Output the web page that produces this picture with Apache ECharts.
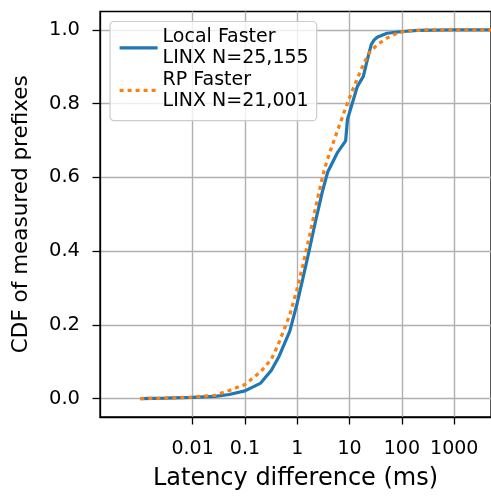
<!DOCTYPE html>
<html>
<head>
<meta charset="utf-8">
<script src="https://cdn.jsdelivr.net/npm/echarts@6/dist/echarts.min.js"></script>
<style>html,body{margin:0;padding:0;background:#fff;}#c{width:491px;height:496px;}</style>
</head>
<body>
<div id="c"></div>
<script>
// Local Faster (LINX N=25,155)
const localX = [0.001, 0.003, 0.01, 0.027, 0.05, 0.1, 0.2, 0.32, 0.45, 0.72, 1.0, 1.28, 1.72, 2.29, 2.54, 3.0, 3.8, 5.9, 8.4, 9.1, 11.3, 14.1, 18.3, 21.8, 25.9, 29.5, 33.7, 52, 93, 200, 1000, 100000];
const localY = [0, 0.001, 0.003, 0.006, 0.011, 0.021, 0.042, 0.077, 0.115, 0.183, 0.26, 0.326, 0.407, 0.488, 0.515, 0.56, 0.614, 0.668, 0.699, 0.757, 0.802, 0.847, 0.874, 0.919, 0.96, 0.973, 0.98, 0.991, 0.995, 0.999, 1.0, 1.0];
// RP Faster (LINX N=21,001)
const rpX = [0.001, 0.003, 0.01, 0.027, 0.05, 0.1, 0.2, 0.32, 0.43, 0.72, 0.96, 1.28, 1.72, 2.46, 3.3, 4.4, 6.3, 9.1, 12.2, 17.5, 23.4, 33.7, 52, 80, 124, 300, 100000];
const rpY = [0, 0.001, 0.004, 0.009, 0.022, 0.038, 0.073, 0.107, 0.146, 0.227, 0.29, 0.362, 0.443, 0.545, 0.623, 0.677, 0.739, 0.802, 0.847, 0.90, 0.937, 0.96, 0.978, 0.991, 0.997, 1.0, 1.0];

const seriesNames = ['Local Faster\nLINX N=25,155', 'RP Faster\nLINX N=21,001'];
const xTicks = [0.01, 0.1, 1, 10, 100, 1000];
const yTicks = [0, 0.2, 0.4, 0.6, 0.8, 1.0];

const FONT = 'DejaVu Sans';
const zip = (xs, ys) => xs.map((x, i) => [x, ys[i]]);

const chart = echarts.init(document.getElementById('c'), null, {renderer: 'canvas'});
chart.setOption({
  animation: false,
  backgroundColor: '#fff',
  grid: {left: 100, top: 11.5, right: -4, bottom: 76.5, show: true, borderColor: '#000', borderWidth: 1.3, containLabel: false},
  xAxis: {
    type: 'log', logBase: 10,
    min: Math.pow(10, -3.771), max: Math.pow(10, 3.703),
    name: 'Latency difference (ms)', nameLocation: 'middle', nameGap: 50,
    nameTextStyle: {fontFamily: FONT, fontSize: 24, color: '#000'},
    axisLine: {show: true, onZero: false, lineStyle: {color: '#000', width: 1.3}},
    axisTick: {show: true, length: 7.5, inside: false, customValues: xTicks, lineStyle: {color: '#000', width: 1.3}},
    axisLabel: {customValues: xTicks, margin: 23, fontFamily: FONT, fontSize: 19, color: '#000',
      formatter: v => String(+Number(v).toPrecision(6))},
    splitLine: {show: true, lineStyle: {color: '#b0b0b0', width: 1.4}},
    minorTick: {show: false}, minorSplitLine: {show: false}
  },
  yAxis: {
    type: 'value', min: -0.05, max: 1.05,
    name: 'CDF of measured prefixes', nameLocation: 'middle', nameGap: 68, nameRotate: 90,
    nameTextStyle: {fontFamily: FONT, fontSize: 21.5, color: '#000'},
    axisLine: {show: true, onZero: false, lineStyle: {color: '#000', width: 1.3}},
    axisTick: {show: true, length: 7.5, customValues: yTicks, lineStyle: {color: '#000', width: 1.3}},
    axisLabel: {customValues: yTicks, margin: 20, fontFamily: FONT, fontSize: 19.5, color: '#000',
      formatter: v => Number(v).toFixed(1)},
    splitLine: {show: true, lineStyle: {color: '#b0b0b0', width: 1.4}}
  },
  legend: {
    orient: 'vertical', left: 110, top: 21.5,
    padding: [5, 8, 9, 8], itemGap: 0, itemWidth: 38, itemHeight: 14,
    textStyle: {fontFamily: FONT, fontSize: 19, lineHeight: 21.3, color: '#000'},
    borderColor: '#cccccc', borderWidth: 1.2, borderRadius: 4,
    backgroundColor: 'rgba(255,255,255,0.8)',
    lineStyle: {width: 3.2},
    itemStyle: {opacity: 0},
    data: seriesNames
  },
  series: [
    {name: seriesNames[0], type: 'line', data: zip(localX, localY), showSymbol: false, symbol: 'none', smooth: false, clip: true,
     lineStyle: {color: '#1f77b4', width: 3.2}, itemStyle: {color: '#1f77b4'}, z: 2},
    {name: seriesNames[1], type: 'line', data: zip(rpX, rpY), showSymbol: false, symbol: 'none', smooth: false, clip: true,
     lineStyle: {color: '#ff7f0e', width: 3.2, type: [4, 4], cap: 'butt'}, itemStyle: {color: '#ff7f0e'}, z: 3}
  ]
});
</script>
</body>
</html>
